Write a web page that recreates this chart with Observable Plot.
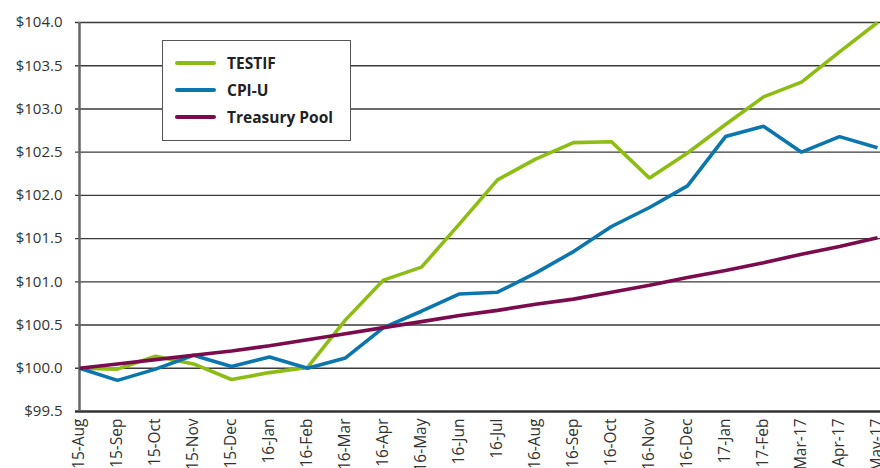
<!DOCTYPE html>
<html>
<head>
<meta charset="utf-8">
<script src="https://cdn.jsdelivr.net/npm/d3@7"></script>
<script src="https://cdn.jsdelivr.net/npm/@observablehq/plot@0.6"></script>
<style>
  html, body { margin: 0; padding: 0; background: #fff; }
  #wrap { position: relative; width: 880px; height: 468px; overflow: hidden; }
  #legend { position: absolute; left: 162px; top: 40px; width: 189px; height: 101px;
    background: #fff; border: 1px solid #555; box-sizing: border-box; font-family: "Open Sans", Lato, sans-serif;
    font-weight: 700; font-size: 15.5px; color: #222; padding-top: 8px; }
  .item { display: flex; align-items: center; height: 27px; }
  .sw { width: 41px; height: 4px; border-radius: 2px; margin-left: 12px; margin-right: 11px; }
</style>
</head>
<body>
<div id="wrap"></div>
<script>
const months = ["15-Aug","15-Sep","15-Oct","15-Nov","15-Dec","16-Jan","16-Feb","16-Mar","16-Apr","16-May","16-Jun","16-Jul","16-Aug","16-Sep","16-Oct","16-Nov","16-Dec","17-Jan","17-Feb","Mar-17","Apr-17","May-17"];
const testif = [100.00,99.99,100.14,100.05,99.87,99.95,100.01,100.56,101.02,101.17,101.67,102.18,102.42,102.61,102.62,102.20,102.49,102.82,103.14,103.31,103.66,104.00];
const cpiu = [100.00,99.86,99.99,100.15,100.02,100.13,100.00,100.12,100.47,100.66,100.86,100.88,101.10,101.35,101.64,101.86,102.11,102.68,102.80,102.50,102.68,102.55];
const treasury = [100.00,100.05,100.10,100.15,100.20,100.26,100.33,100.40,100.47,100.54,100.61,100.67,100.74,100.80,100.88,100.96,101.05,101.13,101.22,101.32,101.41,101.51];
const seriesNames = ["TESTIF","CPI-U","Treasury Pool"];
const seriesColors = ["#8dbd13","#0b76ae","#7b0b4c"];
const yTicks = [99.5,100.0,100.5,101.0,101.5,102.0,102.5,103.0,103.5,104.0];

const data = [];
[testif, cpiu, treasury].forEach((arr, i) => arr.forEach((v, j) => data.push({month: months[j], value: v, series: seriesNames[i]})));

const chart = Plot.plot({
  width: 880, height: 468,
  marginLeft: 75, marginRight: 0, marginTop: 22, marginBottom: 57,
  style: {fontFamily: "'Open Sans', Lato, sans-serif", fontSize: "15px", color: "#333", overflow: "visible"},
  x: {type: "point", domain: months, padding: 0, label: null},
  y: {domain: [99.5, 104], label: null},
  color: {domain: seriesNames, range: seriesColors},
  marks: [
    Plot.ruleY(yTicks.slice(1), {stroke: "#3a3a3a", strokeWidth: 1.4}),
    Plot.ruleY([99.5], {stroke: "#333", strokeWidth: 2.5}),
    Plot.ruleX([months[0]], {y1: 99.5, y2: 104, stroke: "#666", strokeWidth: 2.5}),
    Plot.axisY({ticks: yTicks, tickSize: 0, tickPadding: 13, tickFormat: d => "$" + d3.format(".1f")(d), fontSize: 15, fill: "#333"}),
    Plot.axisX({tickSize: 0, tickPadding: 7, tickRotate: -90, fontSize: 15.5, fill: "#333"}),
    Plot.line(data, {x: "month", y: "value", z: "series", stroke: "series", strokeWidth: 3.6, strokeLinejoin: "miter", strokeLinecap: "butt"})
  ]
});
const wrap = document.getElementById("wrap");
wrap.appendChild(chart);
const legend = document.createElement("div");
legend.id = "legend";
seriesNames.forEach((n, i) => {
  const it = document.createElement("div");
  it.className = "item";
  it.innerHTML = `<div class="sw" style="background:${seriesColors[i]}"></div><span>${n}</span>`;
  legend.appendChild(it);
});
wrap.appendChild(legend);
</script>
</body>
</html>
